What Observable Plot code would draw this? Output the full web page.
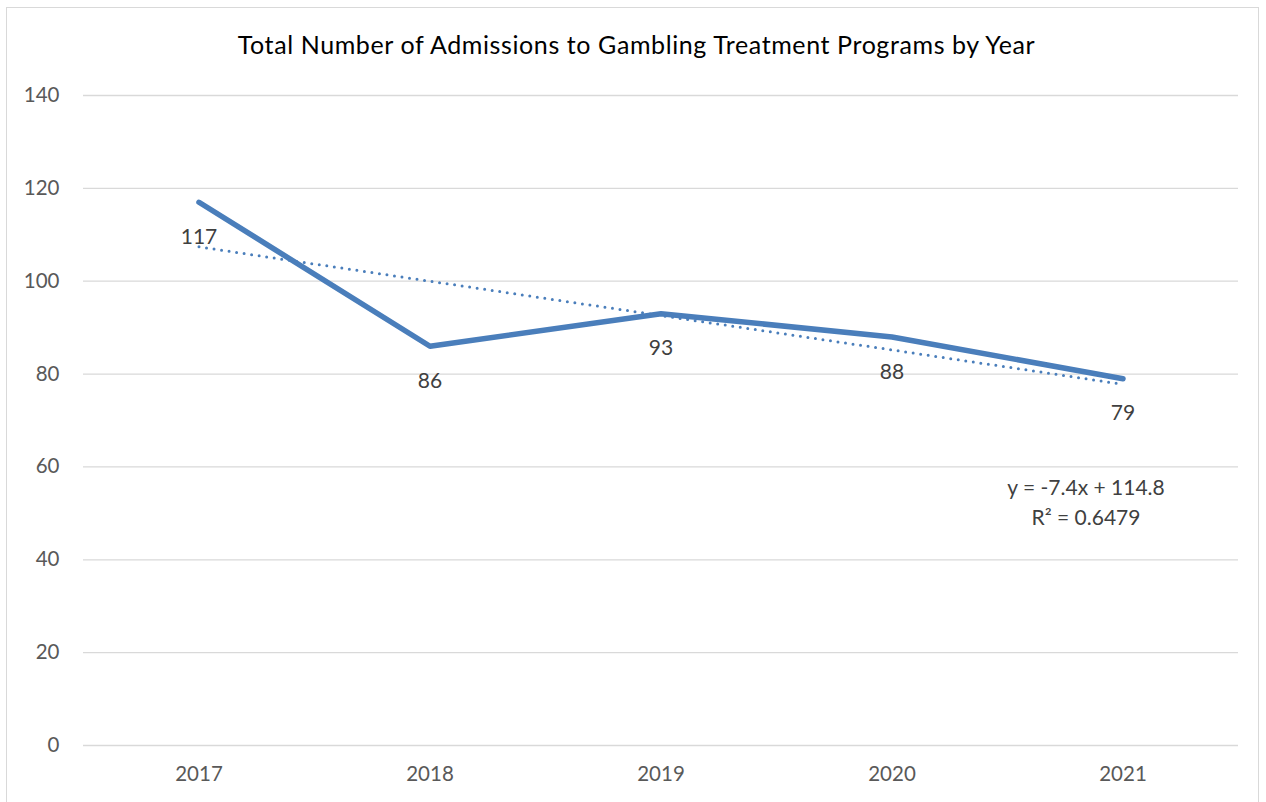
<!DOCTYPE html>
<html>
<head>
<meta charset="utf-8">
<script src="https://cdn.jsdelivr.net/npm/d3@7"></script>
<script src="https://cdn.jsdelivr.net/npm/@observablehq/plot@0.6"></script>
<style>
  body { margin: 0; background: #fff; font-family: Lato, "Open Sans", sans-serif; }
  #wrap { position: relative; width: 1266px; height: 802px; overflow: hidden; }
  #frame { position: absolute; left: 6px; top: 7px; width: 1253px; height: 810px; border: 1px solid #d9d9d9; box-sizing: border-box; }
  #title { position: absolute; left: 0; width: 1273px; top: 29px; text-align: center; font-size: 25px; letter-spacing: 0.6px; color: #000; line-height: 30px; }
  #eq { position: absolute; left: 986px; width: 200px; top: 472px; text-align: center; font-size: 21px; color: #404040; line-height: 30px; }
  #chart { position: absolute; left: 0; top: 0; }
</style>
</head>
<body>
<div id="wrap">
  <div id="frame"></div>
  <div id="chart"></div>
  <div id="title">Total Number of Admissions to Gambling Treatment Programs by Year</div>
  <div id="eq"></div>
</div>
<script>
const years = [2017, 2018, 2019, 2020, 2021];
const admissions = [117, 86, 93, 88, 79];
const yTicks = [0, 20, 40, 60, 80, 100, 120, 140];

const data = years.map((year, i) => ({year, value: admissions[i]}));

// Trendline statistics (Excel-style, x = 1..n)
const xs = years.map((_, i) => i + 1);
const mx = d3.mean(xs), my = d3.mean(admissions);
const sxy = d3.sum(xs, (x, i) => (x - mx) * (admissions[i] - my));
const sxx = d3.sum(xs, x => (x - mx) ** 2);
const syy = d3.sum(admissions, y => (y - my) ** 2);
const slope = sxy / sxx;
const intercept = my - slope * mx;
const r2 = (sxy * sxy) / (sxx * syy);
document.getElementById("eq").innerHTML =
  `y = ${slope.toFixed(1)}x + ${intercept.toFixed(1)}<br>R² = ${r2.toFixed(4)}`;

const blue = "#4a7ebb";
const chart = Plot.plot({
  width: 1266,
  height: 802,
  marginLeft: 83,
  marginRight: 28,
  marginTop: 95,
  marginBottom: 57,
  style: { fontFamily: "Lato, 'Open Sans', sans-serif", background: "transparent", overflow: "visible" },
  x: { domain: [years[0] - 0.5, years[years.length - 1] + 0.5], ticks: years, tickFormat: d => String(d), label: null },
  y: { domain: [0, 140], ticks: yTicks, label: null },
  marks: [
    Plot.gridY(yTicks, { stroke: "#d9d9d9", strokeOpacity: 1, strokeWidth: 1.3 }),
    Plot.axisY(yTicks, { tickSize: 0, tickPadding: 24, fontSize: 20.5, fill: "#595959", label: null }),
    Plot.axisX(years, { tickSize: 0, tickPadding: 21, fontSize: 20.5, fill: "#595959", label: null, tickFormat: d => String(d) }),
    Plot.line(data, { x: "year", y: "value", stroke: blue, strokeWidth: 5.5, strokeLinejoin: "round", strokeLinecap: "round" }),
    Plot.linearRegressionY(data, { x: "year", y: "value", ci: 0, stroke: blue, strokeWidth: 3, strokeDasharray: "0 7.6", strokeLinecap: "round" }),
    Plot.text(data, { x: "year", y: "value", text: d => String(d.value), dy: 35, fontSize: 21, fill: "#404040" })
  ]
});
document.getElementById("chart").appendChild(chart);
</script>
</body>
</html>
